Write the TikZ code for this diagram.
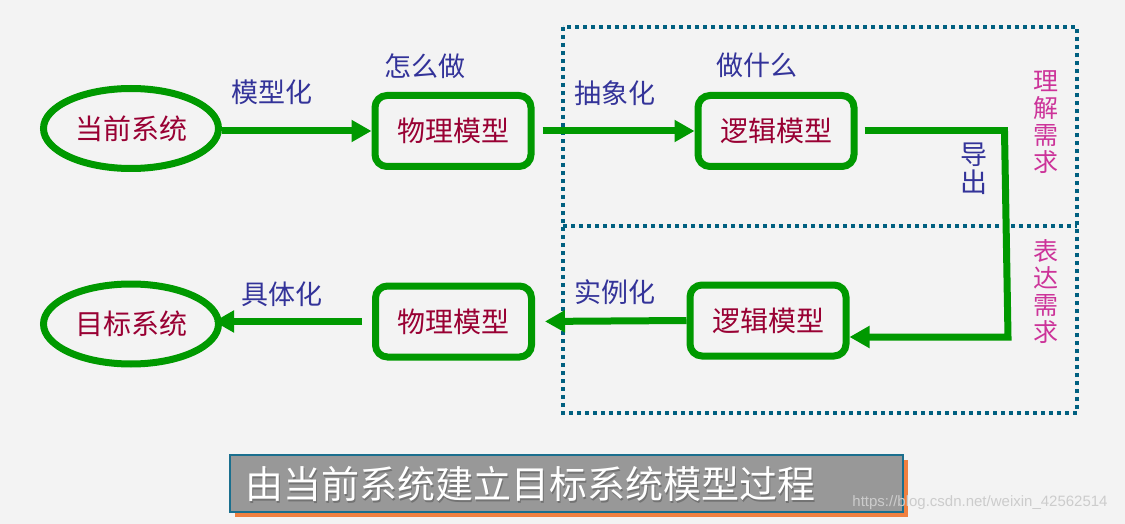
\documentclass[tikz,border=0pt]{standalone}
\usepackage{fontspec}
\newfontfamily\cjk{Noto Sans CJK SC}
\newfontfamily\wm{Liberation Sans}
\usetikzlibrary{arrows.meta,shapes.geometric}
\definecolor{bg}{HTML}{F3F3F3}
\definecolor{grn}{HTML}{009900}
\definecolor{nodered}{HTML}{990033}
\definecolor{lblue}{HTML}{333399}
\definecolor{mag}{HTML}{CC3399}
\definecolor{dotc}{HTML}{006080}
\definecolor{titlegray}{HTML}{989898}
\definecolor{titleedge}{HTML}{1A6F8E}
\definecolor{shadoworange}{HTML}{F08040}
\tikzset{
  sysnode/.style={ellipse,draw=grn,line width=7pt,minimum width=175pt,minimum height=80pt,inner sep=0pt,text=nodered,font=\cjk\fontsize{28}{30}\selectfont},
  modelbox/.style={rectangle,rounded corners=12pt,draw=grn,line width=7pt,minimum width=156pt,minimum height=71pt,inner sep=0pt,text=nodered,font=\cjk\fontsize{28}{30}\selectfont},
  flow/.style={draw=grn,line width=7pt,-{Triangle[length=20pt,width=21pt]}},
  flowline/.style={draw=grn,line width=7pt},
  lbl/.style={text=lblue,font=\cjk\fontsize{27}{28}\selectfont,inner sep=0pt},
  vlbl/.style={text=mag,font=\cjk\fontsize{25}{27}\selectfont,inner sep=0pt,align=center},
  dotline/.style={draw=dotc,line width=4pt,dash pattern=on 4pt off 4pt}
}
\begin{document}
\begin{tikzpicture}[x=1pt,y=-1pt]
\useasboundingbox (0,0) rectangle (1125,524);
\fill[bg] (0,0) rectangle (1125,524);
% dotted region
\draw[dotline] (563,27) rectangle (1077,413);
\draw[dotline] (563,226) -- (1077,226);
% nodes
\node[sysnode] (cur) at (131,128.5) {当前系统};
\node[modelbox] (p1) at (453,131) {物理模型};
\node[modelbox] (l1) at (776,131) {逻辑模型};
\node[modelbox] (l2) at (768,320.5) {逻辑模型};
\node[modelbox] (p2) at (453.5,321.5) {物理模型};
\node[sysnode] (tgt) at (131,324) {目标系统};
% connectors
\draw[flow] (cur.east |- p1.west) -- (p1.west);
\draw[flow,shorten <=8pt] (p1.east) -- (l1.west);
\coordinate (c1) at (1008,131);
\coordinate (c2) at (1008,337);
\draw[flowline,shorten <=7pt] (l1.east) -- (c1);
\draw[flow] ([xshift=-3.5pt]c1) -- (c2) -- (l2.east |- c2);
\draw[flow,shorten >=10pt] (l2.west) -- (p2.east);
\draw[flow,shorten <=10pt,shorten >=-8pt] (p2.west) -- (tgt.east |- p2.west);
% labels
\node[lbl] (m1) at (272,92) {模型化};
\node[lbl] (m2) at (425,66) {怎么做};
\node[lbl] (m3) at (615,93) {抽象化};
\node[lbl] (m4) at (757,65) {做什么};
\node[lbl,align=center,font=\cjk\fontsize{27}{28}\selectfont] (m5) at (974,169) {导\\出};
\node[lbl] (m6) at (615,292) {实例化};
\node[lbl] (m7) at (282,294) {具体化};
\node[vlbl] (v1) at (1046,122) {理\\解\\需\\求};
\node[vlbl] (v2) at (1046,292) {表\\达\\需\\求};
% title
\fill[shadoworange] (235,460) rectangle (908,517);
\filldraw[fill=titlegray,draw=titleedge,line width=1.5pt] (230,455) rectangle (903,512);
\node[text=black!55,font=\cjk\fontsize{38}{40}\selectfont,inner sep=0pt] (tsh) at (531.5,485.5) {由当前系统建立目标系统模型过程};
\node[text=white,font=\cjk\fontsize{38}{40}\selectfont,inner sep=0pt] (title) at (530,484) {由当前系统建立目标系统模型过程};
\node[text=black!20,font=\wm\fontsize{15}{16}\selectfont,inner sep=0pt] (wmk) at (980,503) {https://blog.csdn.net/weixin\_42562514};
\end{tikzpicture}
\end{document}
